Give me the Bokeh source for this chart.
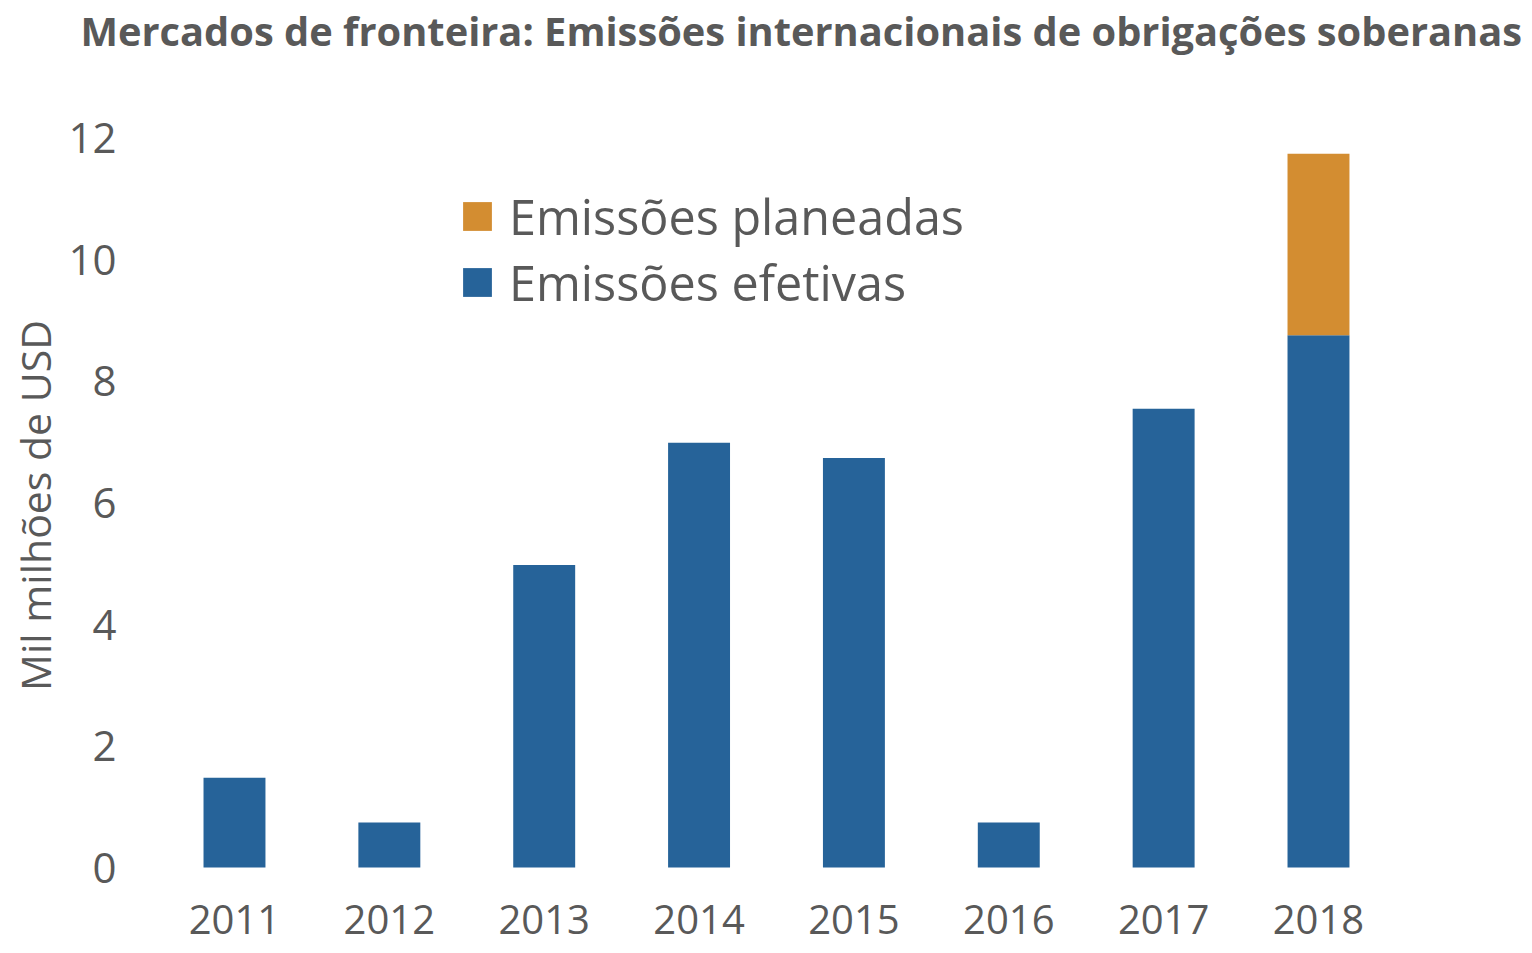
from bokeh.plotting import figure
from bokeh.models import ColumnDataSource, Range1d, Legend, LegendItem, FixedTicker
from bokeh.embed import file_html
from bokeh.resources import INLINE

# ---- data ----
years = ["2011", "2012", "2013", "2014", "2015", "2016", "2017", "2018"]
efetivas = [1.48, 0.74, 4.98, 6.99, 6.74, 0.74, 7.55, 8.76]
planeadas = [0, 0, 0, 0, 0, 0, 0, 2.99]
y_ticks = [0, 2, 4, 6, 8, 10, 12]

title_text = "Mercados de fronteira: Emissões internacionais de obrigações soberanas"
y_label = "Mil milhões de USD"
label_planeadas = "Emissões planeadas"
label_efetivas = "Emissões efetivas"

BLUE = "#266399"
ORANGE = "#D38D31"
GREY = "#595959"
FONT = "Open Sans"

W, H = 1532, 953
TOP = 56  # band above the frame, holds the title
xs = list(range(len(years)))
source = ColumnDataSource(dict(x=xs, efetivas=efetivas, planeadas=planeadas))

p = figure(
    width=W, height=H,
    x_range=Range1d(-1.511, 8.382),
    y_range=Range1d(-1.414, 13.332),
    output_backend="svg", toolbar_location=None,
    min_border_left=0, min_border_right=0, min_border_top=TOP, min_border_bottom=0,
)

rs = p.vbar_stack(["efetivas", "planeadas"], x="x", width=0.4,
                  color=[BLUE, ORANGE], line_color=None, source=source)

# cosmetics
p.outline_line_color = None
p.xgrid.grid_line_color = None
p.ygrid.grid_line_color = None
p.background_fill_color = "white"
p.border_fill_color = "white"

# title
p.title.text = title_text
p.title.text_font = FONT
p.title.text_font_style = "bold"
p.title.text_font_size = "39.8px"
p.title.text_color = GREY
p.title.align = "left"
p.title.offset = 80
p.title.standoff = 0

# x axis, drawn at y=0
xa = p.xaxis[0]
xa.ticker = FixedTicker(ticks=xs)
xa.major_label_overrides = {i: y for i, y in enumerate(years)}
xa.fixed_location = 0
xa.axis_line_color = None
xa.major_tick_line_color = None
xa.minor_tick_line_color = None
xa.major_label_text_font = FONT
xa.major_label_text_font_size = "40px"
xa.major_label_text_color = GREY
xa.major_label_standoff = 31

# y axis
ya = p.yaxis[0]
ya.ticker = FixedTicker(ticks=y_ticks)
ya.fixed_location = -0.6586
ya.axis_line_color = None
ya.major_tick_line_color = None
ya.minor_tick_line_color = None
ya.major_label_text_font = FONT
ya.major_label_text_font_size = "42px"
ya.major_label_text_color = GREY
ya.major_label_standoff = 10
ya.axis_label = y_label
ya.axis_label_text_font = FONT
ya.axis_label_text_font_size = "41px"
ya.axis_label_text_font_style = "normal"
ya.axis_label_text_color = GREY
ya.axis_label_standoff = 2

legend = Legend(
    items=[LegendItem(label=label_planeadas, renderers=[rs[1]]),
           LegendItem(label=label_efetivas, renderers=[rs[0]])],
    location=(459, 638),
    glyph_width=36, glyph_height=36,
    label_text_font=FONT, label_text_font_size="48.5px", label_text_color=GREY,
    label_standoff=14, spacing=0, padding=0, margin=0,
    border_line_color=None, background_fill_alpha=0,
)
p.add_layout(legend)

open("out.html", "w").write(file_html(p, INLINE))
